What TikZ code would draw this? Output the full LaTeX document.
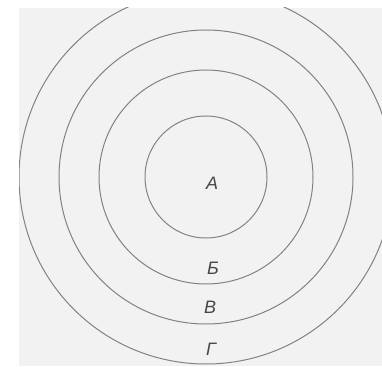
\documentclass[tikz,border=0pt]{standalone}
\usepackage{fontspec}
\setsansfont{Liberation Sans}
\definecolor{ringgray}{RGB}{130,130,130}
\definecolor{papergray}{RGB}{242,242,242}
\usetikzlibrary{positioning}

\begin{document}
\begin{tikzpicture}[
  x=1pt, y=-1pt,
  every node/.style={font=\fontsize{18}{20}\selectfont\sffamily\itshape,text=black!72},
  ring/.style={draw=ringgray,line width=1pt,circle,inner sep=0pt},
  zone/.style={anchor=base,inner sep=0pt},
]
  \useasboundingbox (0,0) rectangle (382,366);
  % paper
  \fill[papergray] (19,8) rectangle (382,366);
  \clip (19,8) rectangle (382,366);
  % Rings
  \node[ring,minimum size=122pt] (ringA) at (206,177) {};
  \node[ring,minimum size=214pt] (ringB) at (206,177) {};
  \node[ring,minimum size=294pt] (ringV) at (206,177) {};
  \node[ring,minimum size=374pt] (ringG) at (206,177) {};
  % Labels
  \node[zone] (labA) at (212,189) {А};
  \node[zone] (labB) at (213,274) {Б};
  \node[zone] (labV) at (210,313) {В};
  \node[zone] (labG) at (211,355) {Г};
\end{tikzpicture}
\end{document}
